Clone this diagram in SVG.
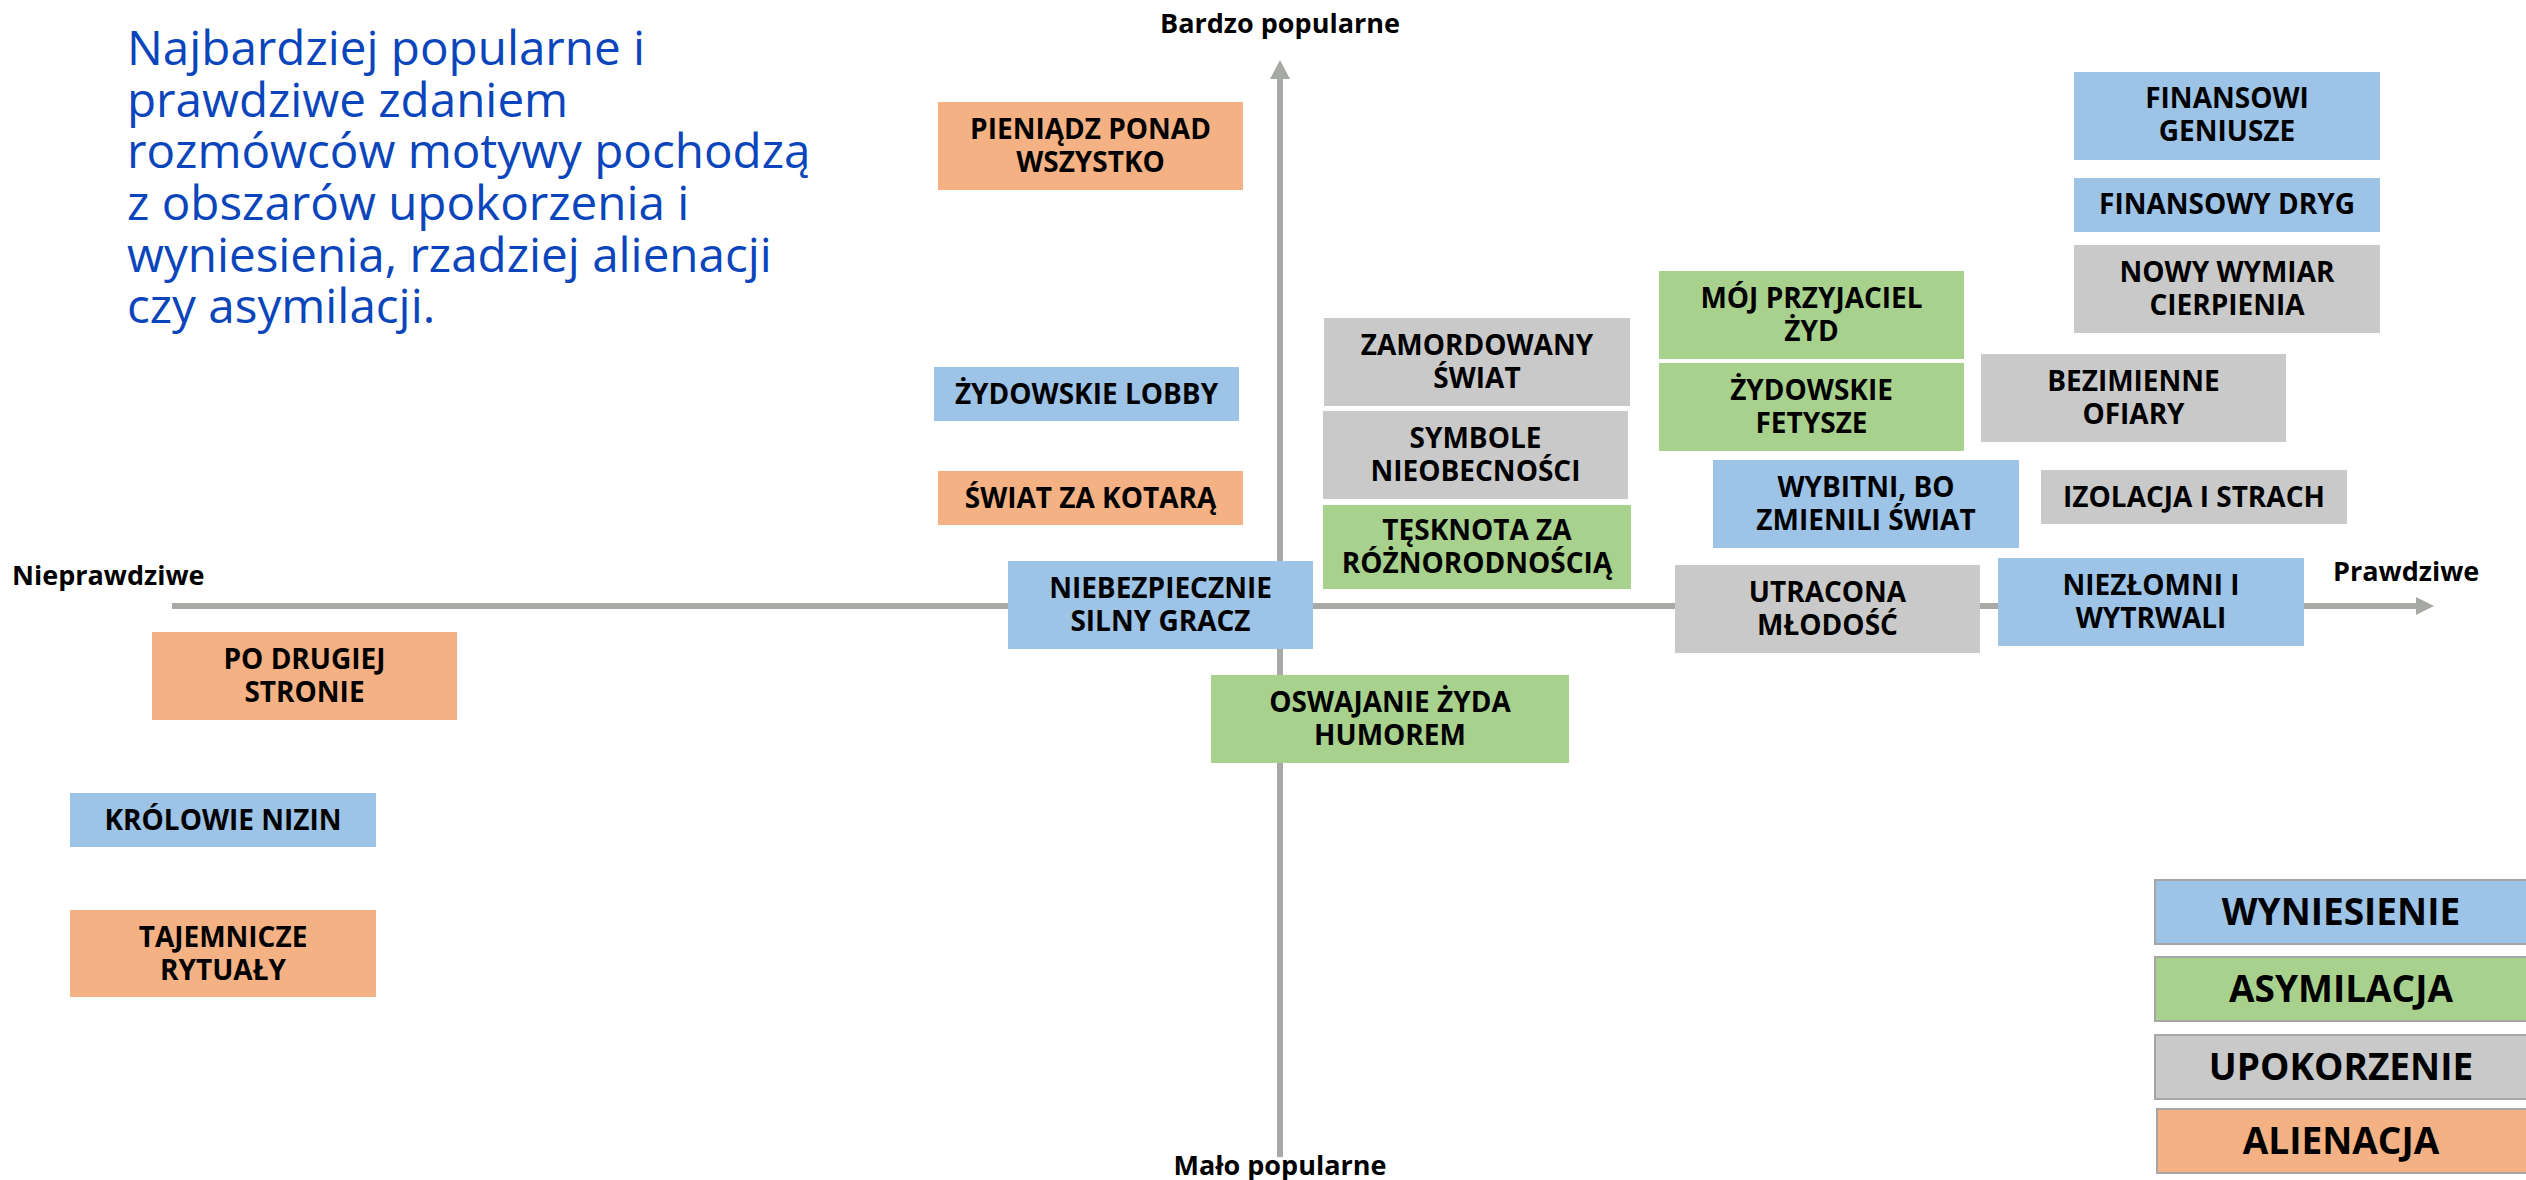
<svg xmlns="http://www.w3.org/2000/svg" width="2526" height="1180" viewBox="0 0 2526 1180">
<style>
.b{fill:#9DC3E6}.g{fill:#A9D18E}.y{fill:#C9C9C9}.o{fill:#F4B183}
.t{font-family:"Open Sans","Noto Sans","Liberation Sans",sans-serif;font-weight:bold;font-size:28px;fill:#000;text-anchor:middle}
.ax{font-family:"Open Sans","Noto Sans","Liberation Sans",sans-serif;font-weight:bold;font-size:27px;fill:#000}
.lg{font-family:"Open Sans","Noto Sans","Liberation Sans",sans-serif;font-weight:bold;font-size:37px;fill:#000;text-anchor:middle}
.lb{stroke:#A6A6A6;stroke-width:2}
.title{font-family:"Open Sans","Noto Sans","Liberation Sans",sans-serif;font-size:47.6px;fill:#0A45BC}
</style>
<rect width="2526" height="1180" fill="#fff"/>
<g id="title">
<text class="title" x="127" y="65">Najbardziej popularne i</text>
<text class="title" x="127" y="117">prawdziwe zdaniem</text>
<text class="title" x="127" y="168">rozmówców motywy pochodzą</text>
<text class="title" x="127" y="220">z obszarów upokorzenia i</text>
<text class="title" x="127" y="272">wyniesienia, rzadziej alienacji</text>
<text class="title" x="127" y="323">czy asymilacji.</text>
</g>
<g id="axes">
<line x1="1280" y1="1157" x2="1280" y2="76" stroke="#A6A9A4" stroke-width="6"/>
<polygon points="1280,60 1270,79 1290,79" fill="#A6A9A4"/>
<line x1="172" y1="606" x2="2418" y2="606" stroke="#A6A9A4" stroke-width="6"/>
<polygon points="2434,606 2416,597 2416,615" fill="#A6A9A4"/>
<text class="ax" x="1280" y="33" text-anchor="middle">Bardzo popularne</text>
<text class="ax" x="1280" y="1175" text-anchor="middle">Mało popularne</text>
<text class="ax" x="12" y="585">Nieprawdziwe</text>
<text class="ax" x="2333" y="581">Prawdziwe</text>
</g>
<g id="n1"><rect class="o" x="938" y="102" width="305" height="88"/><text class="t" x="1090.5" y="139">PIENIĄDZ PONAD</text><text class="t" x="1090.5" y="172">WSZYSTKO</text></g>
<g id="n2"><rect class="b" x="2074" y="72" width="306" height="88"/><text class="t" x="2227" y="108">FINANSOWI</text><text class="t" x="2227" y="141">GENIUSZE</text></g>
<g id="n3"><rect class="b" x="2074" y="178" width="306" height="54"/><text class="t" x="2227" y="214">FINANSOWY DRYG</text></g>
<g id="n4"><rect class="y" x="2074" y="245" width="306" height="88"/><text class="t" x="2227" y="282">NOWY WYMIAR</text><text class="t" x="2227" y="315">CIERPIENIA</text></g>
<g id="n5"><rect class="g" x="1659" y="271" width="305" height="88"/><text class="t" x="1811.5" y="308">MÓJ PRZYJACIEL</text><text class="t" x="1811.5" y="341">ŻYD</text></g>
<g id="n6"><rect class="g" x="1659" y="363" width="305" height="88"/><text class="t" x="1811.5" y="400">ŻYDOWSKIE</text><text class="t" x="1811.5" y="433">FETYSZE</text></g>
<g id="n7"><rect class="y" x="1324" y="318" width="306" height="88"/><text class="t" x="1477" y="355">ZAMORDOWANY</text><text class="t" x="1477" y="388">ŚWIAT</text></g>
<g id="n8"><rect class="b" x="934" y="367" width="305" height="54"/><text class="t" x="1086.5" y="404">ŻYDOWSKIE LOBBY</text></g>
<g id="n9"><rect class="y" x="1981" y="354" width="305" height="88"/><text class="t" x="2133.5" y="391">BEZIMIENNE</text><text class="t" x="2133.5" y="424">OFIARY</text></g>
<g id="n10"><rect class="y" x="1323" y="411" width="305" height="88"/><text class="t" x="1475.5" y="448">SYMBOLE</text><text class="t" x="1475.5" y="481">NIEOBECNOŚCI</text></g>
<g id="n11"><rect class="b" x="1713" y="460" width="306" height="88"/><text class="t" x="1866" y="497">WYBITNI, BO</text><text class="t" x="1866" y="530">ZMIENILI ŚWIAT</text></g>
<g id="n12"><rect class="o" x="938" y="471" width="305" height="54"/><text class="t" x="1090.5" y="508">ŚWIAT ZA KOTARĄ</text></g>
<g id="n13"><rect class="y" x="2041" y="470" width="306" height="54"/><text class="t" x="2194" y="507">IZOLACJA I STRACH</text></g>
<g id="n14"><rect class="g" x="1323" y="505" width="308" height="84"/><text class="t" x="1477" y="540">TĘSKNOTA ZA</text><text class="t" x="1477" y="573">RÓŻNORODNOŚCIĄ</text></g>
<g id="n15"><rect class="b" x="1008" y="561" width="305" height="88"/><text class="t" x="1160.5" y="598">NIEBEZPIECZNIE</text><text class="t" x="1160.5" y="631">SILNY GRACZ</text></g>
<g id="n16"><rect class="y" x="1675" y="565" width="305" height="88"/><text class="t" x="1827.5" y="602">UTRACONA</text><text class="t" x="1827.5" y="635">MŁODOŚĆ</text></g>
<g id="n17"><rect class="b" x="1998" y="558" width="306" height="88"/><text class="t" x="2151" y="595">NIEZŁOMNI I</text><text class="t" x="2151" y="628">WYTRWALI</text></g>
<g id="n18"><rect class="g" x="1211" y="675" width="358" height="88"/><text class="t" x="1390" y="712">OSWAJANIE ŻYDA</text><text class="t" x="1390" y="745">HUMOREM</text></g>
<g id="n19"><rect class="o" x="152" y="632" width="305" height="88"/><text class="t" x="304.5" y="669">PO DRUGIEJ</text><text class="t" x="304.5" y="702">STRONIE</text></g>
<g id="n20"><rect class="b" x="70" y="793" width="306" height="54"/><text class="t" x="223" y="830">KRÓLOWIE NIZIN</text></g>
<g id="n21"><rect class="o" x="70" y="910" width="306" height="87"/><text class="t" x="223" y="947">TAJEMNICZE</text><text class="t" x="223" y="980">RYTUAŁY</text></g>
<g id="legend">
<g id="l1"><rect class="b lb" x="2155" y="880" width="372" height="64"/><text class="lg" x="2341" y="925">WYNIESIENIE</text></g>
<g id="l2"><rect class="g lb" x="2155" y="957" width="372" height="64"/><text class="lg" x="2341" y="1002">ASYMILACJA</text></g>
<g id="l3"><rect class="y lb" x="2155" y="1035" width="372" height="64"/><text class="lg" x="2341" y="1080">UPOKORZENIE</text></g>
<g id="l4"><rect class="o lb" x="2157" y="1109" width="372" height="64"/><text class="lg" x="2341" y="1154">ALIENACJA</text></g>
</g>
</svg>
